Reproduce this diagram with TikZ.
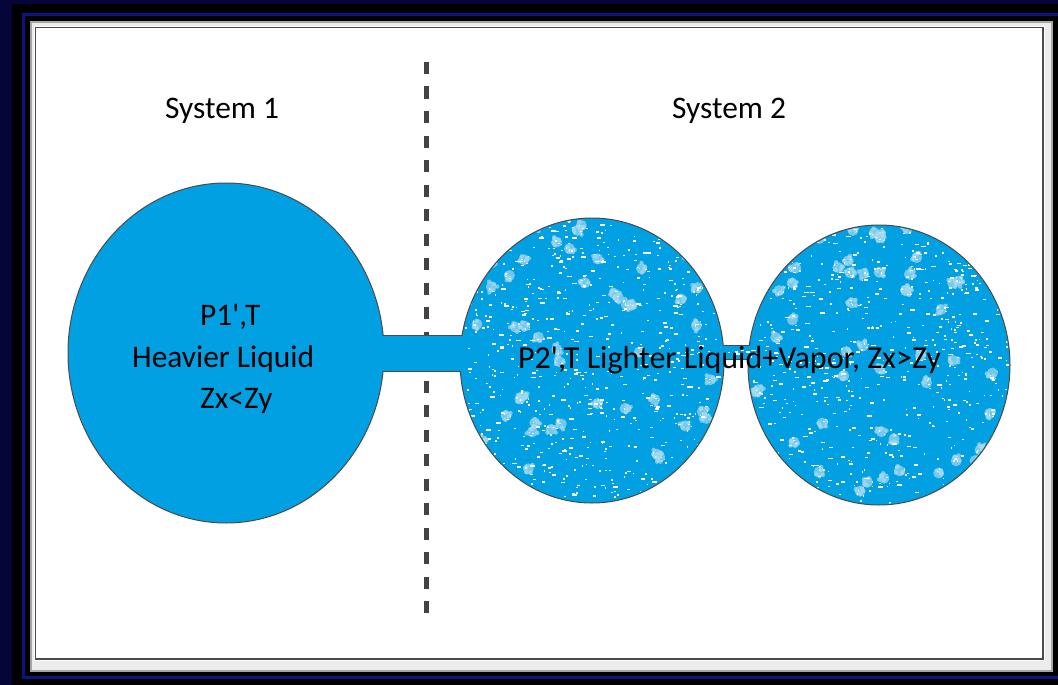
\documentclass[tikz,border=0pt]{standalone}
\usepackage{fontspec}
\newfontfamily\calib{Carlito}
\usetikzlibrary{shapes.geometric}
\definecolor{navy}{HTML}{05053A}
\definecolor{navyline}{HTML}{0C1482}
\definecolor{water}{HTML}{00A0E3}
\definecolor{blobc}{HTML}{A6DAEF}
\definecolor{edge}{HTML}{4A4A4A}
\tikzset{
  tank/.style={ellipse, draw=edge, line width=1pt, fill=water, inner sep=0pt},
  pipeedge/.style={draw=edge, line width=1pt},
  label/.style={anchor=base west, inner sep=0pt, font=\calib\fontsize{31.4}{37}\selectfont, text=black},
  divider/.style={draw=edge!90!black, line width=5pt, dash pattern=on 12pt off 12.5pt},
  speck/.style={fill=white},
  blob/.style={fill=blobc, opacity=0.7}
}
\newcommand\speckle[5]{% x0 y0 width height count
  \foreach \k in {1,...,#5}{
    \pgfmathsetmacro\sx{#1+#3*rnd}
    \pgfmathsetmacro\sy{#2+#4*rnd}
    \pgfmathsetmacro\sw{1.4+3.6*rnd^2}
    \fill[speck] (\sx,\sy) rectangle ++(\sw,1.5);
  }}
\newcommand\blobs[5]{% x0 y0 width height count
  \foreach \k in {1,...,#5}{
    \pgfmathsetmacro\bx{#1+#3*rnd}
    \pgfmathsetmacro\by{#2+#4*rnd}
    \fill[blob] (\bx,\by) circle (5.5pt);
    \foreach \j in {1,...,5}{
      \pgfmathsetmacro\ang{360*rnd}
      \pgfmathsetmacro\rr{2+4*rnd}
      \fill[blob] ([shift={(\ang:\rr)}]\bx,\by) circle (2.2pt);
    }
    \foreach \j in {1,...,3}{
      \pgfmathsetmacro\dx{10*rnd-5}
      \pgfmathsetmacro\dy{10*rnd-5}
      \fill[white, opacity=0.8] (\bx+\dx,\by+\dy) rectangle ++(1.4,1.4);
    }
  }}
\begin{document}
\begin{tikzpicture}[x=1pt,y=-1pt]
\useasboundingbox (0,0) rectangle (1058,685);
% screen frame
\fill[navy] (0,0) rectangle (1058,685);
\fill[black] (12,4) rectangle (1058,685);
\draw[navyline, line width=3pt] (23.5,15) rectangle (1070,677.5);
\fill[black] (26,18) rectangle (1058,676);
\fill[gray!15] (30,21) rectangle (1053,672);
\draw[gray!70, line width=2pt] (31,22) rectangle (1052,671);
\fill[white] (34,26) rectangle (1045,661);
\draw[edge, line width=1.5pt] (35.5,27.5) rectangle (1043,659);

% titles
\node[label] (s1) at (165,118) {System 1};
\node[label] (s2) at (672,118) {System 2};

% dividing line
\coordinate (dtop) at (426.5,62);
\coordinate (dbot) at (426.5,624);
\draw[divider] (dtop) -- (dbot);

% tanks
\node[tank, minimum width=316pt, minimum height=340pt] (c1) at (226,353) {};
\node[tank, minimum width=264pt, minimum height=285pt] (c2) at (592,360.5) {};
\node[tank, minimum width=262pt, minimum height=280pt] (c3) at (879,365) {};

% pipe from tank 1 to tank 2
\coordinate (a1) at (383,335);
\coordinate (a2) at (462,335);
\coordinate (b1) at (383,371);
\coordinate (b2) at (460.5,371);
\fill[water] (378,335.5) rectangle (468,370.5);
\draw[pipeedge] (a1) -- (a2);
\draw[pipeedge] (b1) -- (b2);

% pipe from tank 2 to tank 3
\coordinate (e1) at (723.2,345);
\coordinate (e2) at (749.3,345);
\coordinate (f1) at (724,359);
\coordinate (f2) at (748.1,359);
\fill[water] (718,345.5) rectangle (754,358.5);
\draw[pipeedge] (e1) -- (e2);
\draw[pipeedge] (f1) -- (f2);

% vapour bubbles in the lighter liquid
\pgfmathsetseed{4127}
\begin{scope}
  \clip (592,360.5) ellipse [x radius=131pt, y radius=141.5pt];
  \blobs{465}{222}{256}{278}{60}
  \speckle{462}{220}{260}{282}{650}
\end{scope}
\begin{scope}
  \clip (879,365) ellipse [x radius=130pt, y radius=139pt];
  \blobs{752}{228}{254}{274}{55}
  \speckle{750}{226}{258}{278}{620}
\end{scope}
\begin{scope}
  \clip (720,346) rectangle (752,358);
  \speckle{720}{346}{32}{12}{6}
\end{scope}

% tank labels
\node[label] (t1) at (200,325) {P1\char39,T};
\node[label] (t2) at (132,367) {Heavier Liquid};
\node[label] (t3) at (200,408) {Zx<Zy};
\node[label, font=\calib\fontsize{32}{37}\selectfont] (t4) at (518,368) {P2\char39,T Lighter Liquid+Vapor, Zx>Zy};
\end{tikzpicture}
\end{document}
